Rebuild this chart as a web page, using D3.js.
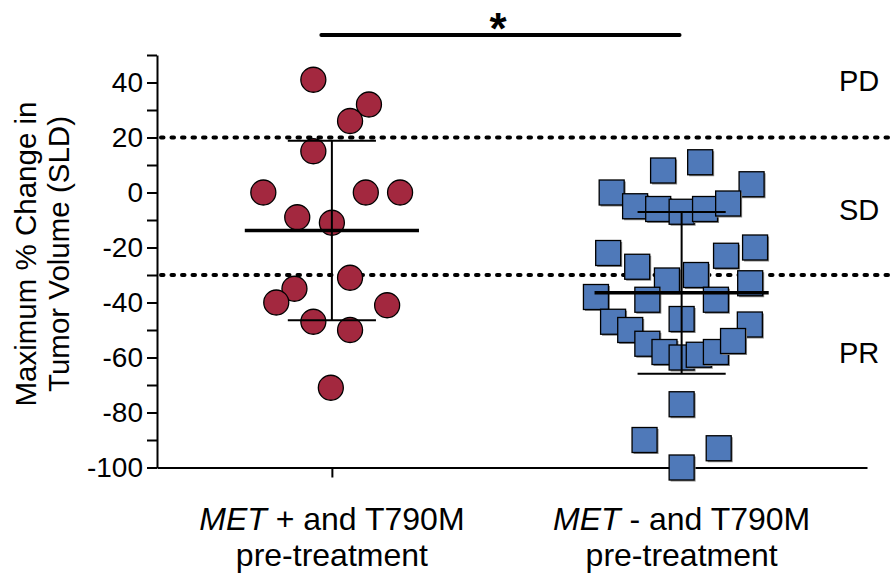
<!DOCTYPE html>
<html lang="en">
<head>
    <meta charset="UTF-8">
    <script src="https://d3js.org/d3.v7.min.js"></script>
    <title>Maximum % Change in Tumor Volume</title>
    <style>
        body {
            margin: 0;
            background: #fff;
            font-family: "Liberation Sans", Arial, Helvetica, sans-serif;
        }
        .axis path,
        .axis line {
            stroke: #000;
            stroke-width: 2;
        }
        .axis text {
            font-family: "Liberation Sans", Arial, sans-serif;
            font-size: 28px;
            fill: #000;
        }
    </style>
</head>
<body>
    <div id="chart"></div>

    <script>
        // Data
        const groups = ["MET+", "MET-"];
        const yTicks = [-100, -80, -60, -40, -20, 0, 20, 40];
        const cutoffs = [20, -30];
        const zones = ["PD", "SD", "PR"];
        const zoneValues = [41, -6, -58];

        // MET+ and T790M (circles); jitter in category units
        const metPosValues = [41, 32, 26, 15, 0, 0, 0, -9, -11, -31, -35, -40, -41, -47, -50, -71];
        const metPosJitter = [-0.053, 0.106, 0.052, -0.053, -0.196, 0.097, 0.195, -0.099, 0, 0.052, -0.107, -0.159, 0.158, -0.053, 0.052, -0.003];

        // MET- and T790M (squares)
        const metNegValues = [0, 8, 11, 3, -5, -6, -7, -6, -4, -22, -27, -32, -30, -23, -20, -38, -39, -39, -33, -46,
            -47, -48, -50, -55, -58, -60, -59, -58, -54, -77, -90, -93, -100];
        const metNegJitter = [-0.2, -0.053, 0.053, 0.2, -0.133, -0.067, 0, 0.067, 0.133, -0.21, -0.127, -0.042, 0.041, 0.127, 0.21, -0.245, -0.098, 0.098, 0.196, 0,
            -0.196, 0.195, -0.147, -0.098, -0.049, 0, 0.049, 0.098, 0.147, 0, -0.106, 0.106, 0];

        const width = 890, height = 575;
        const svg = d3.select("#chart").append("svg")
            .attr("width", width)
            .attr("height", height);

        const x = d3.scaleLinear().domain([-0.5, 1.53]).range([157, 867]);
        const y = d3.scaleLinear().domain([-100, 50]).range([467.5, 55]);

        // dotted cutoff lines
        svg.selectAll(".cutoff")
            .data(cutoffs)
            .join("line")
            .attr("class", "cutoff")
            .attr("x1", x(-0.5) + 4)
            .attr("x2", width)
            .attr("y1", d => y(d))
            .attr("y2", d => y(d))
            .attr("stroke", "#000")
            .attr("stroke-width", 4)
            .attr("stroke-linecap", "round")
            .attr("stroke-dasharray", "2.5 8");

        // axes
        svg.append("g")
            .attr("class", "axis")
            .attr("transform", `translate(${x(-0.5)},0)`)
            .call(d3.axisLeft(y)
                .tickValues(d3.range(-100, 51, 10))
                .tickSize(10)
                .tickSizeOuter(0)
                .tickPadding(4)
                .tickFormat(d => yTicks.includes(d) ? String(d) : ""));

        svg.append("g")
            .attr("class", "axis")
            .attr("transform", `translate(0,${y(-100)})`)
            .call(d3.axisBottom(x)
                .tickValues([0, 1])
                .tickSize(10)
                .tickSizeOuter(0)
                .tickFormat(""));

        // group 1: circles
        svg.append("g").selectAll("circle")
            .data(metPosValues)
            .join("circle")
            .attr("cx", (d, i) => x(0 + metPosJitter[i]))
            .attr("cy", d => y(d))
            .attr("r", 12.5)
            .attr("fill", "#a3283f")
            .attr("stroke", "#000")
            .attr("stroke-width", 1.3);

        // group 2: squares with a soft grey edge
        const side = 25;
        const sq = svg.append("g").selectAll("g")
            .data(metNegValues)
            .join("g")
            .attr("transform", (d, i) => `translate(${x(1 + metNegJitter[i])},${y(d)})`);
        sq.append("rect")
            .attr("x", -side / 2 + 1.5)
            .attr("y", -side / 2 + 1.5)
            .attr("width", side)
            .attr("height", side)
            .attr("fill", "#8a8a8a");
        sq.append("rect")
            .attr("x", -side / 2)
            .attr("y", -side / 2)
            .attr("width", side)
            .attr("height", side)
            .attr("fill", "#4f79b9")
            .attr("stroke", "#000")
            .attr("stroke-width", 1.3);

        // mean and SD bars
        const stats = [metPosValues, metNegValues].map((vals, i) => ({
            i: i,
            mean: d3.mean(vals),
            sd: d3.deviation(vals)
        }));
        const bars = svg.append("g");
        stats.forEach(s => {
            bars.append("line")
                .attr("x1", x(s.i)).attr("x2", x(s.i))
                .attr("y1", y(s.mean + s.sd)).attr("y2", y(s.mean - s.sd))
                .attr("stroke", "#000").attr("stroke-width", 2);
            [s.mean + s.sd, s.mean - s.sd].forEach(v => {
                bars.append("line")
                    .attr("x1", x(s.i - 0.126)).attr("x2", x(s.i + 0.126))
                    .attr("y1", y(v)).attr("y2", y(v))
                    .attr("stroke", "#000").attr("stroke-width", 2);
            });
            bars.append("line")
                .attr("x1", x(s.i - 0.249)).attr("x2", x(s.i + 0.249))
                .attr("y1", y(s.mean)).attr("y2", y(s.mean))
                .attr("stroke", "#000").attr("stroke-width", 3.5);
        });

        // significance bar
        svg.append("line")
            .attr("x1", x(-0.03)).attr("x2", x(0.994))
            .attr("y1", 35).attr("y2", 35)
            .attr("stroke", "#000").attr("stroke-width", 4)
            .attr("stroke-linecap", "round");
        svg.append("text")
            .attr("x", x(0.475)).attr("y", 44)
            .attr("text-anchor", "middle")
            .attr("font-size", 44)
            .attr("font-weight", "bold")
            .text("*");

        // zone labels
        svg.selectAll(".zone")
            .data(zones)
            .join("text")
            .attr("class", "zone")
            .attr("x", 839)
            .attr("y", (d, i) => y(zoneValues[i]) + 11)
            .attr("font-size", 29)
            .text(d => d);

        // y axis title
        const title = svg.append("text")
            .attr("transform", `translate(0,254) rotate(-90)`)
            .attr("text-anchor", "middle")
            .attr("font-size", 29.5);
        title.append("tspan").attr("x", 0).attr("y", 36).text("Maximum % Change in");
        title.append("tspan").attr("x", 0).attr("y", 69).text("Tumor Volume (SLD)");

        // category labels
        const signs = ["+", "-"];
        groups.forEach((g, i) => {
            const t = svg.append("text")
                .attr("text-anchor", "middle")
                .attr("font-size", 32);
            const l1 = t.append("tspan").attr("x", x(i)).attr("y", 530);
            l1.append("tspan").attr("font-style", "italic").text("MET");
            l1.append("tspan").text(" " + signs[i] + " and T790M");
            t.append("tspan").attr("x", x(i)).attr("y", 566).text("pre-treatment");
        });
    </script>
</body>
</html>
